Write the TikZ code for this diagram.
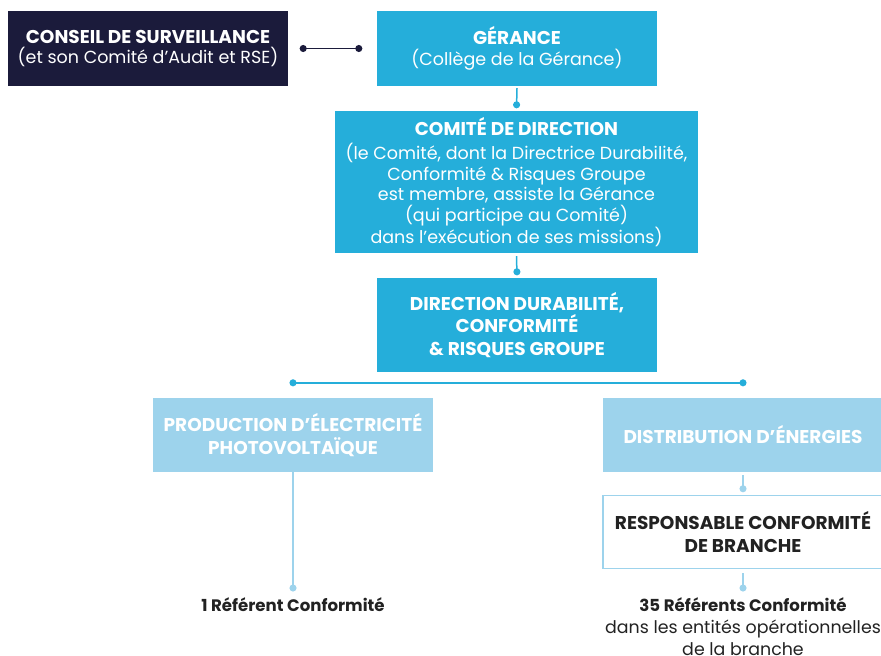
\documentclass[tikz,border=0pt]{standalone}
\usepackage{fontspec}
\setmainfont{Poppins}
\usetikzlibrary{arrows.meta}
\definecolor{navy}{HTML}{1B1B3B}
\definecolor{azure}{HTML}{25AEDA}
\definecolor{pale}{HTML}{9DD3EC}
\definecolor{ink}{HTML}{222222}
\newcommand\boxhead{\fontsize{18.5}{21}\selectfont\bfseries}
\tikzset{
  box/.style={minimum width=280pt, minimum height=75pt, align=center, inner sep=0pt, text=white, font=\fontsize{17.5}{20.5}\selectfont},
  headbox/.style={font=\fontsize{18.5}{22.5}\selectfont\bfseries},
  darkbox/.style={box, fill=navy},
  bluebox/.style={box, fill=azure},
  palebox/.style={box, fill=pale, headbox},
  outlinebox/.style={box, fill=white, draw=pale, line width=1.5pt, text=ink, headbox},
  label/.style={align=center, inner sep=0pt, text=ink, font=\fontsize{17.4}{22}\selectfont},
  dotlink/.style={line width=1.5pt, -{Circle[length=7pt]}},
}
\begin{document}
\begin{tikzpicture}[x=1pt, y=-1pt]
\useasboundingbox (0,0) rectangle (881,656);

\node[darkbox] (conseil) at (148,48.5) {{\boxhead CONSEIL DE SURVEILLANCE}\\(et son Comité d’Audit et RSE)};
\node[bluebox] (gerance) at (517,48.5) {{\boxhead GÉRANCE}\\(Collège de la Gérance)};
\node[bluebox, minimum width=363pt, minimum height=142pt] (comite) at (516.5,182)
  {{\boxhead COMITÉ DE DIRECTION}\\[4pt](le Comité, dont la Directrice Durabilité,\\Conformité \& Risques Groupe\\est membre, assiste la Gérance\\(qui participe au Comité)\\dans l’exécution de ses missions)};
\node[bluebox, headbox, minimum height=94pt] (direction) at (517,325)
  {DIRECTION DURABILITÉ,\\CONFORMITÉ\\\& RISQUES GROUPE};
\node[palebox, minimum height=74pt] (prod) at (293,435) {PRODUCTION D’ÉLECTRICITÉ\\PHOTOVOLTAÏQUE};
\node[palebox, minimum height=74pt] (distrib) at (743,435) {DISTRIBUTION D’ÉNERGIES};
\node[outlinebox, minimum height=73pt] (resp) at (743,532) {RESPONSABLE CONFORMITÉ\\DE BRANCHE};
\node[label, anchor=north] (ref1) at (293,597) {{\fontsize{16.6}{22}\selectfont\bfseries 1 Référent Conformité}};
\node[label, anchor=north] (ref35) at (743,597) {{\fontsize{16.6}{22}\selectfont\bfseries 35 Référents Conformité}\\dans les entités opérationnelles\\de la branche};

% supervision link
\draw[navy, line width=1.5pt, {Circle[length=7pt]}-{Circle[length=7pt]}]
  ([xshift=11.5pt]conseil.east) -- ([xshift=-14.5pt]gerance.west);

% main chain
\draw[azure, dotlink] ([yshift=-2pt]gerance.south) -- ([yshift=2.5pt]comite.north);
\draw[azure, dotlink] ([yshift=-3pt]comite.south) -- ([yshift=2.5pt]direction.north);

% branch bar
\draw[azure, line width=1.5pt, {Circle[length=7pt]}-{Circle[length=7pt]}]
  ([yshift=15pt, xshift=-3.5pt]prod.north) -- ([yshift=15pt, xshift=3.5pt]distrib.north);

% branch details
\draw[pale, dotlink] (prod.south) -- ([yshift=5.5pt]ref1.north);
\draw[pale, dotlink] ([yshift=-3pt]distrib.south) -- ([yshift=2.5pt]resp.north);
\draw[pale, dotlink] ([yshift=-4pt]resp.south) -- ([yshift=5.5pt]ref35.north);
\end{tikzpicture}
\end{document}
